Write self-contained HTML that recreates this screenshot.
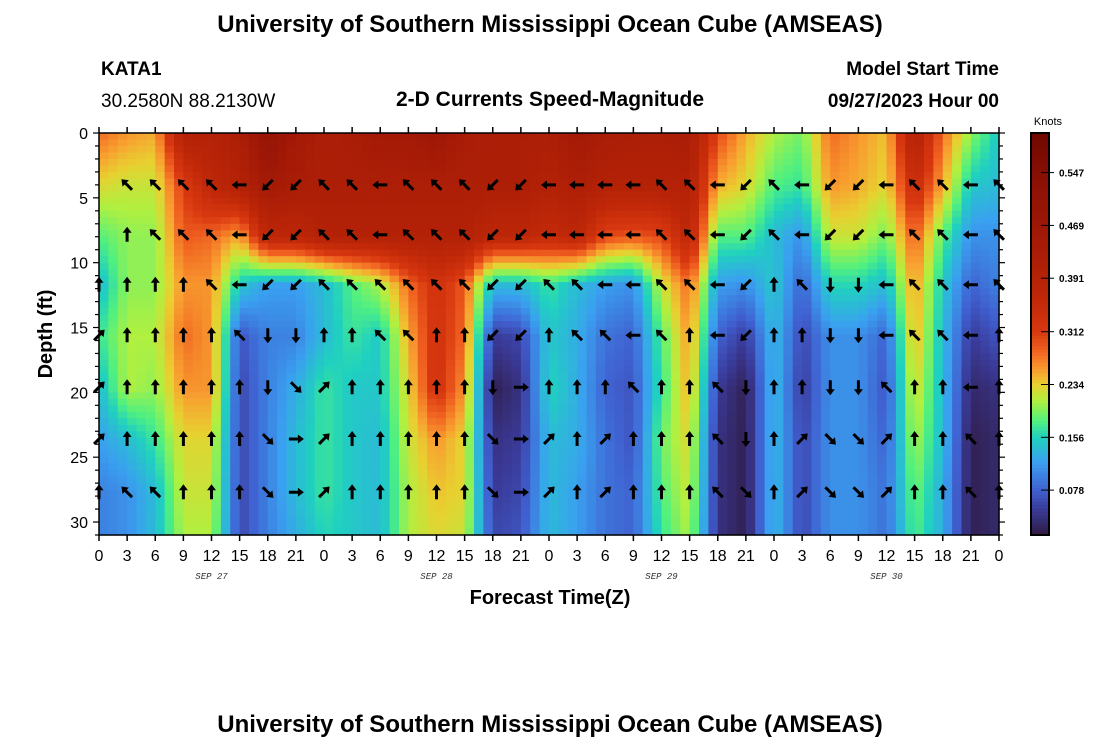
<!DOCTYPE html>
<html><head><meta charset="utf-8"><style>
body{margin:0;background:#fff;}
svg{display:block;font-family:"Liberation Sans",sans-serif;}
</style></head><body>
<svg id="chart" width="1100" height="750" viewBox="0 0 1100 750">
<text x="550" y="32" text-anchor="middle" font-size="24" font-weight="bold">University of Southern Mississippi Ocean Cube (AMSEAS)</text>
<text x="101" y="75" font-size="19" font-weight="bold">KATA1</text>
<text x="101" y="107" font-size="19">30.2580N  88.2130W</text>
<text x="550" y="106" text-anchor="middle" font-size="21" font-weight="bold">2-D Currents Speed-Magnitude</text>
<text x="999" y="75" text-anchor="end" font-size="19" font-weight="bold">Model Start Time</text>
<text x="999" y="107" text-anchor="end" font-size="19" font-weight="bold">09/27/2023 Hour 00</text>
<g id="heat"></g>
<g id="arrows"></g>
<rect x="99" y="133" width="900" height="402" fill="none" stroke="#000" stroke-width="1.5"/>
<g id="axes"></g>
<text transform="translate(52,334) rotate(-90)" text-anchor="middle" font-size="20" font-weight="bold">Depth (ft)</text>
<text x="550" y="604" text-anchor="middle" font-size="20" font-weight="bold">Forecast Time(Z)</text>
<g id="cbar"></g>
<text x="1048" y="125" text-anchor="middle" font-size="11">Knots</text>
<text x="550" y="732" text-anchor="middle" font-size="24" font-weight="bold">University of Southern Mississippi Ocean Cube (AMSEAS)</text>
</svg>
<script>
const times = [0,3,6,9,12,15,18,21,24,27,30,33,36,39,42,45,48,51,54,57,60,63,66,69,72,75,78,81,84,87,90,93,96];
const depths = [0,4,8,11.7,15.7,19.7,23.7,27.7,31];
const speedD0  = [0.28,0.26,0.25,0.40,0.40,0.42,0.50,0.45,0.42,0.43,0.45,0.45,0.47,0.43,0.42,0.42,0.42,0.45,0.43,0.42,0.42,0.43,0.30,0.25,0.21,0.19,0.28,0.26,0.24,0.40,0.28,0.20,0.15];
const speedD4  = [0.23,0.22,0.22,0.31,0.37,0.40,0.45,0.43,0.42,0.42,0.42,0.42,0.42,0.42,0.42,0.42,0.40,0.42,0.40,0.40,0.40,0.40,0.25,0.23,0.18,0.17,0.26,0.25,0.23,0.35,0.25,0.15,0.14];
const speedD8  = [0.18,0.20,0.20,0.29,0.28,0.25,0.37,0.37,0.40,0.40,0.40,0.40,0.40,0.40,0.37,0.37,0.35,0.37,0.30,0.29,0.30,0.37,0.18,0.18,0.14,0.11,0.22,0.22,0.19,0.29,0.18,0.11,0.11];
const speedD12 = [0.14,0.20,0.20,0.26,0.26,0.15,0.12,0.12,0.14,0.18,0.21,0.28,0.33,0.29,0.14,0.14,0.17,0.14,0.12,0.11,0.22,0.28,0.12,0.11,0.15,0.08,0.16,0.16,0.14,0.26,0.15,0.08,0.10];
const speedD16 = [0.17,0.21,0.21,0.28,0.26,0.07,0.10,0.10,0.14,0.17,0.15,0.25,0.33,0.28,0.05,0.06,0.15,0.13,0.09,0.08,0.18,0.26,0.08,0.05,0.14,0.06,0.11,0.11,0.08,0.25,0.14,0.05,0.07];
const speedD20 = [0.14,0.21,0.20,0.26,0.26,0.06,0.10,0.13,0.17,0.15,0.15,0.23,0.33,0.26,0.02,0.04,0.16,0.13,0.08,0.07,0.17,0.25,0.05,0.02,0.14,0.05,0.11,0.11,0.07,0.23,0.14,0.03,0.04];
const speedD24 = [0.12,0.14,0.17,0.23,0.23,0.06,0.10,0.14,0.17,0.15,0.14,0.22,0.26,0.23,0.04,0.05,0.14,0.13,0.09,0.07,0.19,0.23,0.04,0.02,0.14,0.06,0.11,0.11,0.08,0.21,0.14,0.02,0.03];
const speedD28 = [0.10,0.11,0.14,0.22,0.22,0.06,0.10,0.14,0.17,0.15,0.14,0.21,0.24,0.23,0.05,0.06,0.14,0.12,0.09,0.08,0.18,0.22,0.04,0.02,0.14,0.06,0.11,0.11,0.09,0.19,0.13,0.02,0.03];
const speedD31 = [0.10,0.11,0.14,0.21,0.21,0.06,0.10,0.13,0.16,0.15,0.14,0.21,0.23,0.22,0.06,0.07,0.14,0.12,0.09,0.08,0.17,0.21,0.04,0.02,0.14,0.06,0.11,0.11,0.09,0.18,0.13,0.02,0.03];
const speedRows = [speedD0,speedD4,speedD8,speedD12,speedD16,speedD20,speedD24,speedD28,speedD31];

const arrowDepths = [4,7.85,11.7,15.6,19.6,23.6,27.7];
const dirD4  = ["","NW","NW","NW","NW","W","SW","SW","NW","NW","W","NW","NW","NW","SW","SW","W","W","W","W","NW","NW","W","SW","NW","W","SW","SW","W","NW","NW","W","NW"];
const dirD8  = ["","N","NW","NW","NW","W","SW","SW","NW","NW","W","NW","NW","NW","SW","SW","W","W","W","W","NW","NW","W","SW","NW","W","SW","SW","W","NW","NW","W","NW"];
const dirD12 = ["N","N","N","N","NW","W","SW","SW","NW","NW","NW","NW","NW","NW","SW","SW","NW","NW","W","W","NW","NW","W","SW","N","NW","S","S","W","NW","NW","W","NW"];
const dirD16 = ["NE","N","N","N","N","NW","S","S","N","N","NW","NW","N","N","SW","SW","N","NW","NW","W","NW","N","W","SW","N","N","S","S","W","NW","NW","W","N"];
const dirD20 = ["NE","N","N","N","N","N","S","SE","NE","N","N","N","N","N","S","E","N","N","N","NW","N","N","NW","S","N","N","S","S","NW","N","N","W","N"];
const dirD24 = ["NE","N","N","N","N","N","SE","E","NE","N","N","N","N","N","SE","E","NE","N","NE","N","N","N","NW","S","N","NE","SE","SE","NE","N","N","NW","N"];
const dirD28 = ["N","NW","NW","N","N","N","SE","E","NE","N","N","N","N","N","SE","E","NE","N","NE","N","N","N","NW","SE","N","NE","SE","SE","NE","N","N","NW","N"];
const dirRows = [dirD4,dirD8,dirD12,dirD16,dirD20,dirD24,dirD28];

const xTickLabels = ["0","3","6","9","12","15","18","21","0","3","6","9","12","15","18","21","0","3","6","9","12","15","18","21","0","3","6","9","12","15","18","21","0"];
const dayLabels = ["SEP 27","SEP 28","SEP 29","SEP 30"];
const dayLabelHours = [12,36,60,84];
const yTickLabels = [0,5,10,15,20,25,30];
const cbarTicks = [0.078,0.156,0.234,0.312,0.391,0.469,0.547];

const NS="http://www.w3.org/2000/svg";
const X0=99,X1=999,Y0=133,Y1=535,TMAX=96,DMAX=31;
const VMIN=0.0117,VMAX=0.6055;
const xS=t=>X0+(t/TMAX)*(X1-X0);
const yS=d=>Y0+(d/DMAX)*(Y1-Y0);
const cbY=v=>Y1-((v-VMIN)/(VMAX-VMIN))*(Y1-Y0);
const cmV=[0.0117,0.05,0.078,0.12,0.156,0.18,0.21,0.234,0.255,0.285,0.312,0.36,0.46,0.54,0.6055];
const cmC=["#2f1a40","#3a3a98","#4060d0","#3aa0f0","#20d0c0","#50f080","#b0f040","#e8d030","#f8a030","#f06020","#d83810","#c02808","#a01806","#8a1004","#700800"];
function hex(h){return [1,3,5].map(i=>parseInt(h.substr(i,2),16));}
const cmRGB=cmC.map(hex);
function color(v){v=Math.max(cmV[0],Math.min(cmV[cmV.length-1],v));let i=0;while(i<cmV.length-2&&v>cmV[i+1])i++;const r=(v-cmV[i])/(cmV[i+1]-cmV[i]);const a=cmRGB[i],b=cmRGB[i+1];return "rgb("+a.map((c,k)=>Math.round(c+(b[k]-c)*r)).join(",")+")";}
function el(tag,attrs,parent){const e=document.createElementNS(NS,tag);for(const k in attrs)e.setAttribute(k,attrs[k]);parent.appendChild(e);return e;}
function interp(xs,x){for(let i=0;i<xs.length-1;i++){if(x<=xs[i+1]){return [i,(x-xs[i])/(xs[i+1]-xs[i])];}}return [xs.length-2,1];}
function valueAt(t,d){const [j,rt]=interp(times,t);const [i,rd]=interp(depths,d);
 const a=speedRows[i][j]*(1-rt)+speedRows[i][j+1]*rt;const b=speedRows[i+1][j]*(1-rt)+speedRows[i+1][j+1]*rt;return a*(1-rd)+b*rd;}
const heat=document.getElementById('heat');
for(let t=0;t<TMAX;t+=1){for(let d=0;d<DMAX;d+=0.5){
 const r=el('rect',{x:xS(t).toFixed(2),y:yS(d).toFixed(2),width:(xS(t+1)-xS(t)+0.6).toFixed(2),height:(yS(d+0.5)-yS(d)+0.6).toFixed(2),fill:color(valueAt(t+0.5,d+0.25))},heat);
 
 
}}
const ang={N:0,NE:45,E:90,SE:135,S:180,SW:225,W:270,NW:315};
const arrows=document.getElementById('arrows');
dirRows.forEach((row,ri)=>{row.forEach((dd,ci)=>{if(!dd)return;
 const p=el('path',{d:"M-1.5,7 L-1.5,-2 L-4.5,-2 L0,-8 L4.5,-2 L1.5,-2 L1.5,7 Z",fill:"#000",transform:`translate(${xS(times[ci]).toFixed(1)},${yS(arrowDepths[ri]).toFixed(1)}) rotate(${ang[dd]})`},arrows);
 
 
});});
const axes=document.getElementById('axes');
xTickLabels.forEach((lb,i)=>{const x=xS(i*3);
 el('line',{x1:x,x2:x,y1:Y1,y2:Y1+6,stroke:"#000","stroke-width":1.5},axes);
 el('line',{x1:x,x2:x,y1:Y0,y2:Y0-6,stroke:"#000","stroke-width":1.5},axes);
 const tx=el('text',{x:x,y:Y1+26,"text-anchor":"middle","font-size":16},axes);tx.textContent=lb;
 
 
});
dayLabels.forEach((lb,i)=>{const tx=el('text',{x:xS(dayLabelHours[i]),y:579,"text-anchor":"middle","font-size":9,"font-style":"italic","font-family":"Liberation Mono, monospace",fill:"#333"},axes);tx.textContent=lb;
 
 
});
for(let d=0;d<=DMAX;d++){const y=yS(d);const L=(d%5===0)?6:4;
 el('line',{x1:X0-L,x2:X0,y1:y,y2:y,stroke:"#000","stroke-width":1.2},axes);
 el('line',{x1:X1,x2:X1+L,y1:y,y2:y,stroke:"#000","stroke-width":1.2},axes);}
yTickLabels.forEach(v=>{const tx=el('text',{x:88,y:yS(v)+6,"text-anchor":"end","font-size":16},axes);tx.textContent=v;
 
 
});
const cb=document.getElementById('cbar');
for(let v=VMIN;v<VMAX;v+=0.005){el('rect',{x:1031,y:cbY(v+0.005),width:18,height:(cbY(v)-cbY(v+0.005)+0.5),fill:color(v+0.0025)},cb);}
el('rect',{x:1031,y:Y0,width:18,height:Y1-Y0,fill:"none",stroke:"#000","stroke-width":2},cb);
cbarTicks.forEach(v=>{const y=cbY(v);el('line',{x1:1041,x2:1054,y1:y,y2:y,stroke:"#000","stroke-width":1},cb);
 const tx=el('text',{x:1059,y:y+4,"font-size":10,"font-weight":"bold"},cb);tx.textContent=v.toFixed(3);
 
 
});
</script>
</body></html>
